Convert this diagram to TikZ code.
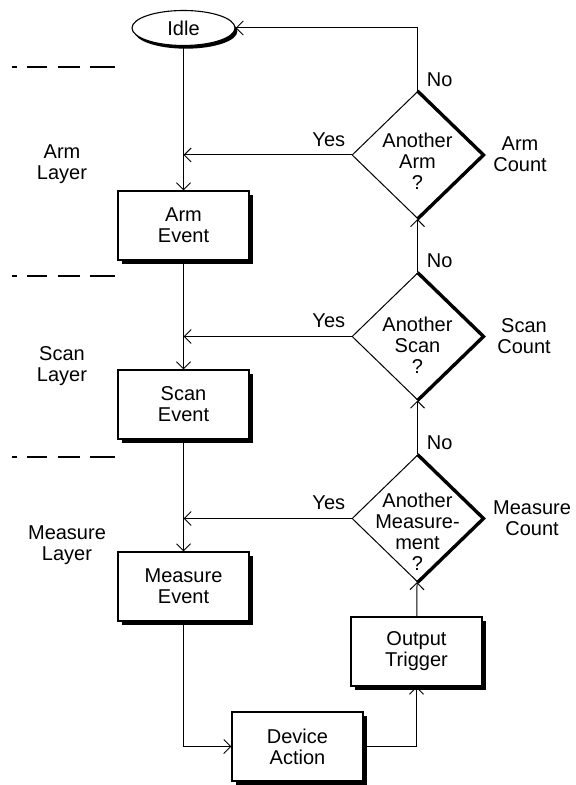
\documentclass[tikz,border=0pt]{standalone}
\usepackage{fontspec}
\setmainfont{Liberation Sans}
\usepackage{tikz}
\usetikzlibrary{arrows.meta,shapes.geometric,shadows}
\tikzset{
  txt/.style={font=\fontsize{10}{10.5}\selectfont, align=center, inner sep=0pt},
  stepbox/.style={txt, draw, fill=white, line width=0.55pt, minimum width=65.5pt,
      minimum height=34.5pt,
      drop shadow={shadow xshift=2pt, shadow yshift=-2pt, fill=black, opacity=1}},
  idlebox/.style={txt, ellipse, draw, fill=white, line width=0.55pt, minimum width=51.5pt,
      minimum height=17.5pt,
      drop shadow={shadow xshift=1.2pt, shadow yshift=-1.6pt, fill=black, opacity=1}},
  decision/.style={diamond, draw, line width=0.5pt, minimum width=65.5pt,
      minimum height=63.5pt, inner sep=0pt},
  heavy/.style={line width=1.7pt, line join=miter},
  flow/.style={line width=0.5pt, -{Straight Barb[length=3.5pt, width=7pt]}},
  divider/.style={line width=0.6pt,
      dash pattern=on 2.5pt off 5pt on 10pt off 5.5pt on 11pt off 5pt on 12.5pt off 20pt},
}

\begin{document}
\begin{tikzpicture}[x=0.5pt, y=-0.5pt]
  \useasboundingbox (0,0) rectangle (576,785);

  % layer dividers
  \foreach \y in {67,276,457}
    \draw[divider] (12,\y) -- (115,\y);

  \node[txt] (larm) at (62,164) {Arm\\Layer};
  \node[txt] (lscan) at (62,366) {Scan\\Layer};
  \node[txt] (lmeas) at (67,545) {Measure\\Layer};

  % main chain
  \node[idlebox] (idle) at (183.5,28) {Idle};
  \node[stepbox] (arm) at (183.5,225.5) {Arm\\Event};
  \node[stepbox] (scan) at (183.5,404.5) {Scan\\Event};
  \node[stepbox] (meas) at (183.5,586.5) {Measure\\Event};
  \node[stepbox] (dev) at (297.5,746.5) {Device\\Action};
  \node[stepbox] (out) at (416.5,651.5) {Output\\Trigger};

  % counters
  \node[decision] (darm) at (417.5,155) {};
  \node[decision] (dscan) at (417.5,336.5) {};
  \node[decision] (dmeas) at (417.5,518.5) {};
  \foreach \d in {darm,dscan,dmeas}
    \draw[heavy] (\d.north) -- (\d.east) -- (\d.south);

  \node[txt, anchor=north] (qarm) at (417.5,133) {Another\\Arm\\?};
  \node[txt, anchor=north] (qscan) at (417.5,317) {Another\\Scan\\?};
  \node[txt, anchor=north] (qmeas) at (417.5,493) {Another\\Measure-\\ment\\?};

  \node[txt] (carm) at (520,154) {Arm\\Count};
  \node[txt] (cscan) at (524,336) {Scan\\Count};
  \node[txt] (cmeas) at (532,518) {Measure\\Count};

  \draw[flow] (idle) -- (arm);
  \draw[flow] (arm) -- (scan);
  \draw[flow] (scan) -- (meas);
  \draw[flow] (meas.south) |- (dev.west);
  \draw[flow] (dev.east) -| (out.south);
  \draw[flow] (out) -- (dmeas);
  \draw[flow] (dmeas) -- (dscan);
  \draw[flow] (dscan) -- (darm);
  \draw[flow] (darm.north) |- (idle.east);

  % yes branches back to the main line
  \foreach \d/\b in {darm/arm,dscan/scan,dmeas/meas}{
    \coordinate (y\d) at (\b.north |- \d.west);
    \draw[flow] (\d.west) -- (y\d);
    \node[txt, anchor=south east] (yes\d) at ([xshift=-3pt, yshift=4pt]\d.west) {Yes};
    \node[txt, anchor=south west] (no\d) at ([xshift=4.5pt, yshift=2pt]\d.north) {No};
  }

\end{tikzpicture}
\end{document}
